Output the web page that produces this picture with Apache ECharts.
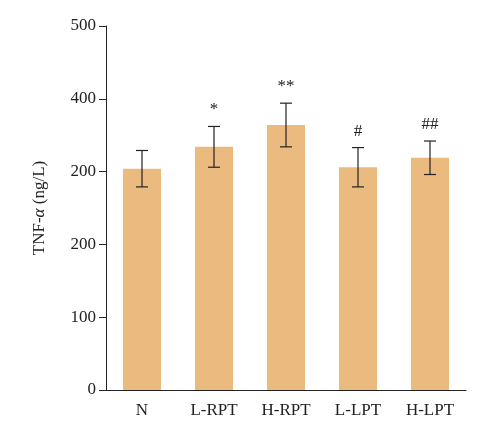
<!DOCTYPE html>
<html><head><meta charset="utf-8">
<script src="https://cdn.jsdelivr.net/npm/echarts@6/dist/echarts.min.js"></script>
<style>html,body{margin:0;padding:0;background:#fff}#c{width:500px;height:442px}</style>
</head><body><div id="c"></div>
<script>
const categories = ['N','L-RPT','H-RPT','L-LPT','H-LPT'];
const means = [304, 334, 364, 306, 319];
const errors = [25, 28, 30, 27, 23];
const marks = ['', '*', '**', '#', '##'];
const tickLabels = ['0','100','200','200','400','500'];
const F = 'Liberation Serif, DejaVu Serif, serif';
const chart = echarts.init(document.getElementById('c'));
chart.setOption({
  animation:false,
  grid:{left:106,right:34,top:26,bottom:52},
  xAxis:{type:'category',data:categories,
    axisLine:{lineStyle:{color:'#222'}},axisTick:{show:false},
    axisLabel:{color:'#222',fontFamily:F,fontSize:17,margin:12}},
  yAxis:{type:'value',min:0,max:500,interval:100,
    axisLine:{show:true,lineStyle:{color:'#222'}},
    axisTick:{show:true,inside:false,length:7,lineStyle:{color:'#222'}},
    splitLine:{show:false},
    axisLabel:{color:'#222',fontFamily:F,fontSize:17,margin:10,formatter:(v)=>tickLabels[Math.round(v/100)]},
    name:'{a|TNF-}{b|α}{a| (ng/L)}',nameLocation:'middle',nameGap:58,nameRotate:90,
    nameTextStyle:{rich:{a:{fontFamily:F,fontSize:17,color:'#222'},b:{fontFamily:F,fontSize:17,fontStyle:'italic',color:'#222'}}}},
  series:[
    {type:'bar',data:means,barWidth:38,itemStyle:{color:'#EBBA7E'}},
    {type:'custom',data:means.map((m,i)=>[i,m,errors[i],marks[i]]),z:5,
     renderItem:(p,api)=>{
       const i=api.value(0),m=api.value(1),e=api.value(2);
       const top=api.coord([i,m+e]),bot=api.coord([i,m-e]);
       const x=top[0],w=6;
       const s={stroke:'#222',lineWidth:1.2};
       return {type:'group',children:[
         {type:'line',shape:{x1:x,y1:top[1],x2:x,y2:bot[1]},style:s},
         {type:'line',shape:{x1:x-w,y1:top[1],x2:x+w,y2:top[1]},style:s},
         {type:'line',shape:{x1:x-w,y1:bot[1],x2:x+w,y2:bot[1]},style:s},
         {type:'text',style:{text:marks[i],x:x,y:top[1]-8,align:'center',verticalAlign:'bottom',font:'17px '+F,fill:'#222'}}
       ]};
     }}
  ]
});
</script></body></html>
